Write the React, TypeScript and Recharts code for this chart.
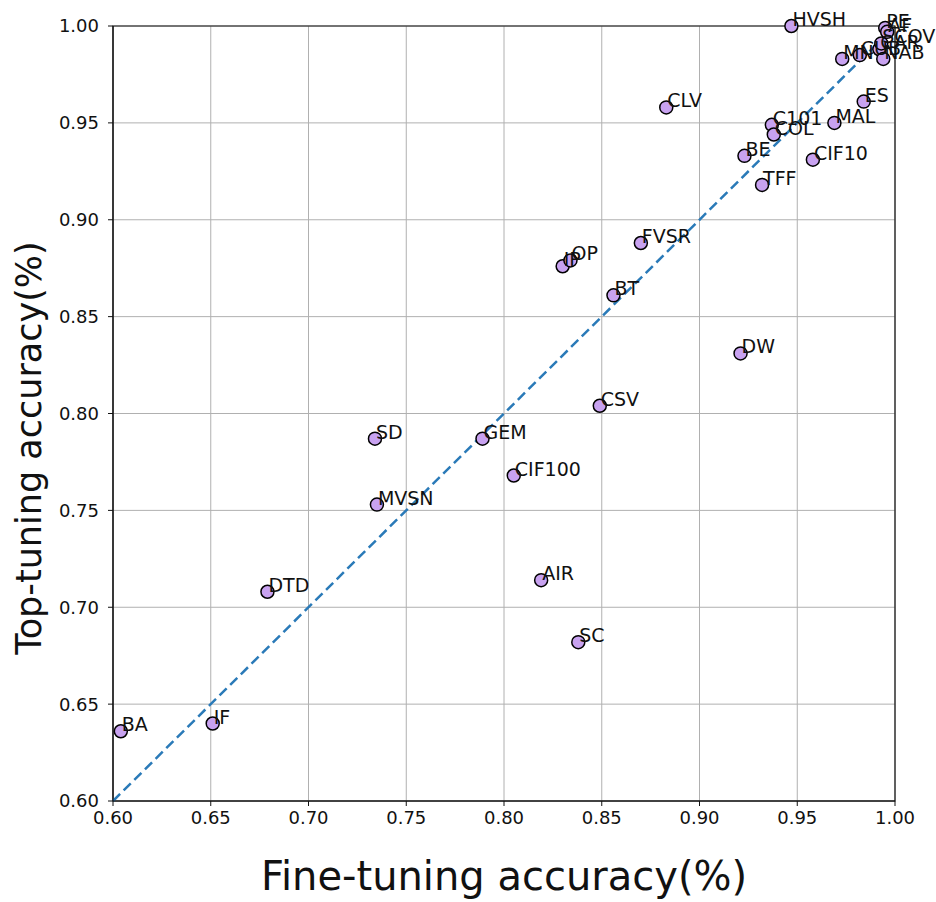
import { ScatterChart, Scatter, XAxis, YAxis, CartesianGrid, ReferenceLine, ReferenceArea } from 'recharts';

// dataset abbreviations, fine-tuning accuracy (x) vs top-tuning accuracy (y)
const names = [
  'HVSH', 'PE', 'AF', 'MN', 'CUB', 'CAR', 'SCOV', 'NAB', 'ES', 'MAL', 'C101', 'COL', 'BE', 'CIF10', 'TFF',
  'CLV', 'FVSR', 'IP', 'OP', 'BT', 'DW', 'CSV', 'SD', 'GEM', 'CIF100', 'MVSN', 'AIR', 'SC', 'DTD', 'IF', 'BA',
];
const fineAcc = [
  0.947, 0.995, 0.996, 0.973, 0.982, 0.992, 0.993, 0.994, 0.984, 0.969, 0.937, 0.938, 0.923, 0.958, 0.932,
  0.883, 0.870, 0.830, 0.834, 0.856, 0.921, 0.849, 0.734, 0.789, 0.805, 0.735, 0.819, 0.838, 0.679, 0.651, 0.604,
];
const topAcc = [
  1.0, 0.999, 0.997, 0.983, 0.985, 0.988, 0.991, 0.983, 0.961, 0.950, 0.949, 0.944, 0.933, 0.931, 0.918,
  0.958, 0.888, 0.876, 0.879, 0.861, 0.831, 0.804, 0.787, 0.787, 0.768, 0.753, 0.714, 0.682, 0.708, 0.640, 0.636,
];
const ticks = [0.6, 0.65, 0.7, 0.75, 0.8, 0.85, 0.9, 0.95, 1.0];
const diagStart = 0.6;
const diagEnd = 0.99;

const points = names.map((name, i) => ({ name, x: fineAcc[i], y: topAcc[i] }));

const FONT = 'DejaVu Sans, sans-serif';

const Dot = (props: any) => {
  const { cx, cy } = props;
  if (cx == null || cy == null) return null;
  return <circle cx={cx} cy={cy} r={6.5} fill="#c8a2f0" stroke="#000" strokeWidth={1.5} />;
};

const Annot = (props: any) => {
  const { cx, cy, payload } = props;
  if (cx == null || cy == null) return null;
  return (
    <text x={cx + 1} y={cy} fontSize={19} fontFamily={FONT} fill="#111">
      {payload.name}
    </text>
  );
};

export default function App() {
  return (
    <div style={{ position: 'absolute', left: 0, top: 0, background: '#fff' }}>
      <ScatterChart width={936} height={902} margin={{ top: 26, right: 41, left: 0, bottom: 0 }}>
        <CartesianGrid stroke="#b0b0b0" strokeWidth={1} />
        <XAxis
          type="number"
          dataKey="x"
          domain={[0.6, 1.0]}
          ticks={ticks}
          height={101}
          tickFormatter={(v: number) => v.toFixed(2)}
          tick={{ fontSize: 18, fill: '#111', fontFamily: FONT }}
          tickSize={5}
          tickMargin={5}
          stroke="#111"
          label={{
            value: 'Fine-tuning accuracy(%)',
            content: () => (
              <text x={504} y={890} textAnchor="middle" fontSize={40} fontFamily={FONT} fill="#111">
                Fine-tuning accuracy(%)
              </text>
            ),
          }}
        />
        <YAxis
          type="number"
          dataKey="y"
          domain={[0.6, 1.0]}
          ticks={ticks}
          width={113}
          tickFormatter={(v: number) => v.toFixed(2)}
          tick={{ fontSize: 18, fill: '#111', fontFamily: FONT }}
          tickSize={5}
          tickMargin={9}
          stroke="#111"
          label={{
            value: 'Top-tuning accuracy(%)',
            content: () => (
              <text
                x={41}
                y={448}
                transform="rotate(-90 41 448)"
                textAnchor="middle"
                fontSize={35}
                fontFamily={FONT}
                fill="#111"
              >
                Top-tuning accuracy(%)
              </text>
            ),
          }}
        />
        <ReferenceArea x1={0.6} x2={1.0} y1={0.6} y2={1.0} fill="none" stroke="#111" strokeWidth={1.2} />
        <Scatter data={points} shape={Dot} isAnimationActive={false} />
        <ReferenceLine
          segment={[{ x: diagStart, y: diagStart }, { x: diagEnd, y: diagEnd }]}
          stroke="#2a7ab8"
          strokeWidth={2.5}
          strokeDasharray="10 5"
        />
        <Scatter data={points} shape={Annot} isAnimationActive={false} />
      </ScatterChart>
    </div>
  );
}
